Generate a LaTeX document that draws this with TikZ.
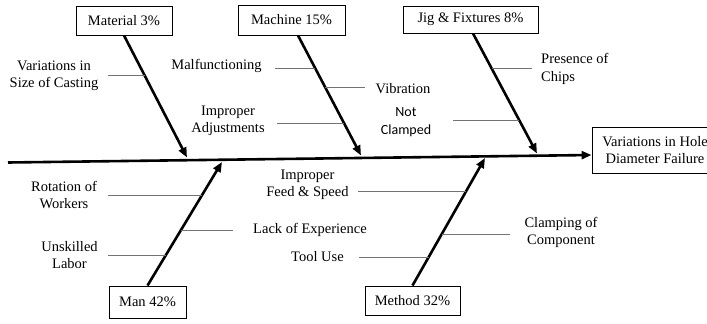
\documentclass[tikz,border=0pt]{standalone}
\usepackage{fontspec}
\setmainfont{Liberation Serif}
\newfontfamily\calib{Carlito}
\usetikzlibrary{arrows.meta}
\newcommand\fs{\fontsize{14.5}{17.5}\selectfont}
\begin{document}
\begin{tikzpicture}[x=1pt,y=-1pt,
  box/.style={draw,line width=0.9pt,inner sep=0pt,font=\fs,align=center},
  lbl/.style={inner sep=0pt,font=\fs,align=center},
  bone/.style={line width=2.6pt,-{Triangle[length=10pt,width=8pt]}},
  twig/.style={draw=black!55,line width=0.9pt}]
\clip (0,0) rectangle (707,324);
\useasboundingbox (0,0) rectangle (707,324);
% boxes
\node[box,minimum width=96pt,minimum height=29pt] (mat) at (124,20.5) {Material 3\%};
\node[box,minimum width=107pt,minimum height=30pt] (mach) at (291.5,20) {Machine 15\%};
\node[box,minimum width=135pt,minimum height=27pt] (jig) at (470.5,19.5) {Jig \& Fixtures 8\%};
\node[box,minimum width=77pt,minimum height=32pt] (man) at (147.5,302) {Man 42\%};
\node[box,minimum width=95pt,minimum height=29pt] (meth) at (412.5,300.5) {Method 32\%};
\node[box,minimum width=126pt,minimum height=46pt] (eff) at (655,150) {Variations in Hole\\Diameter Failure};
% spine
\coordinate (s0) at (8,162.5);
\draw[bone] (s0) -- ([yshift=-5pt]eff.west);
% bone tips
\coordinate (mt) at (187,157.5);
\coordinate (ct) at (361,155.5);
\coordinate (jt) at (537,153.5);
\coordinate (nt) at (222,162);
\coordinate (et) at (485,158);
\draw[bone] (mat.south) -- (mt);
\draw[bone] ([xshift=6.5pt]mach.south) -- (ct);
\draw[bone] ([xshift=2.5pt]jig.south) -- (jt);
\draw[bone] (man.north) -- (nt);
\draw[bone] (meth.north) -- (et);
% labels
\node[lbl] (cast) at (54,76) {Variations in\\Size of Casting};
\node[lbl] (malf) at (216.5,66) {Malfunctioning};
\node[lbl] (vib) at (403,89) {Vibration};
\node[lbl] (adj) at (228,121) {Improper\\Adjustments};
\node[inner sep=0pt,align=center,font=\calib\fontsize{14}{18}\selectfont] (ncl) at (406,122) {Not\\Clamped};
\node[lbl,align=left,anchor=west] (chip) at (541,69) {Presence of\\Chips};
\node[lbl] (rot) at (64,195) {Rotation of\\Workers};
\node[lbl] (unsk) at (69.5,255) {Unskilled\\Labor};
\node[lbl] (feed) at (307.5,185) {Improper\\Feed \& Speed};
\node[lbl] (lack) at (310,230) {Lack of Experience};
\node[lbl] (tool) at (317.5,257) {Tool Use};
\node[lbl] (clmp) at (561,232.5) {Clamping of\\Component};
% twigs
\coordinate (a1) at (108,75);    \coordinate (b1) at (144.6,75);
\coordinate (a2) at (275,68);    \coordinate (b2) at (315.3,68);
\coordinate (a3) at (325.2,87);  \coordinate (b3) at (365,87);
\coordinate (a4) at (277,123);   \coordinate (b4) at (344,123);
\coordinate (a5) at (491.6,68);  \coordinate (b5) at (532,68);
\coordinate (a6) at (453,120);   \coordinate (b6) at (519.2,120);
\coordinate (a7) at (108,195);   \coordinate (b7) at (202.2,195);
\coordinate (a8) at (108,255);   \coordinate (b8) at (166.1,255);
\coordinate (a9) at (181.2,230); \coordinate (b9) at (233,230);
\coordinate (a10) at (358,191);  \coordinate (b10) at (466.3,191);
\coordinate (a11) at (359,257);  \coordinate (b11) at (428.9,257);
\coordinate (a12) at (441.9,234);\coordinate (b12) at (510,234);
\foreach \i in {1,...,12} {\draw[twig] (a\i) -- (b\i);}
\end{tikzpicture}
\end{document}
